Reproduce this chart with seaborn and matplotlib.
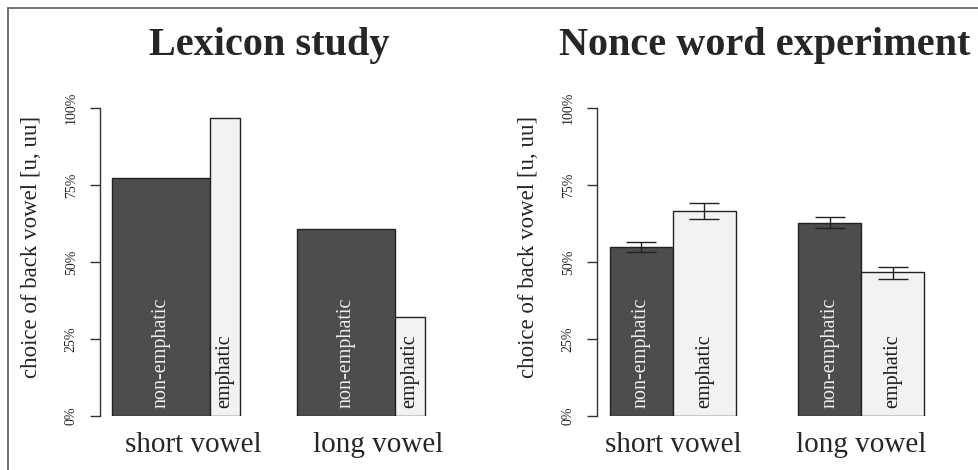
import numpy as np
import pandas as pd
import matplotlib
matplotlib.use("Agg")
import matplotlib.pyplot as plt
from matplotlib.patches import Rectangle
import seaborn as sns

# data
categories = ["short vowel", "long vowel"]
consonants = ["non-emphatic", "emphatic"]

lexicon_short = [0.773, 0.968]
lexicon_long = [0.607, 0.321]
lexicon_share = [0.76, 0.24]   # relative bar widths in the lexicon panel

nonce_short = [0.550, 0.665]
nonce_long = [0.627, 0.466]
nonce_short_lo = [0.533, 0.639]
nonce_short_hi = [0.565, 0.690]
nonce_long_lo = [0.611, 0.444]
nonce_long_hi = [0.645, 0.483]

yticks = [0, 0.25, 0.5, 0.75, 1.0]
ytick_labels = ["0%", "25%", "50%", "75%", "100%"]

sns.set_style("white")
plt.rcParams['font.family'] = ['Liberation Serif', 'DejaVu Serif']

dark = "#4d4d4d"
light = "#f2f2f2"
edge = "#222222"


def make_df(short, long_):
    return pd.DataFrame({
        "vowel": [categories[0]] * 2 + [categories[1]] * 2,
        "type": consonants * 2,
        "value": list(short) + list(long_),
    })


lex = make_df(lexicon_short, lexicon_long)
nonce = make_df(nonce_short, nonce_long)

W, H = 979, 470
fig = plt.figure(figsize=(W / 100, H / 100), dpi=100)
ax1 = fig.add_axes([100 / W, 54 / H, 338 / W, 308 / H])
ax2 = fig.add_axes([597 / W, 54 / H, 340 / W, 308 / H])

for ax, df, width in [(ax1, lex, 0.692), (ax2, nonce, 0.67)]:
    sns.barplot(data=df, x="vowel", y="value", hue="type", order=categories,
                hue_order=consonants, palette=[dark, light], width=width,
                gap=0, edgecolor=edge, linewidth=1, saturation=1,
                legend=False, errorbar=None, ax=ax)

# lexicon panel: bar widths follow the share of words
d = 0.692 * lexicon_share[0]
l = 0.692 * lexicon_share[1]
for i in range(len(categories)):
    left = i - (0.75 * d + 0.25 * l)
    b_dark = ax1.containers[0][i]
    b_light = ax1.containers[1][i]
    b_dark.set_x(left)
    b_dark.set_width(d)
    b_light.set_x(left + d)
    b_light.set_width(l)

# error bars on nonce panel
lo = [nonce_short_lo, nonce_long_lo]
hi = [nonce_short_hi, nonce_long_hi]
for j in range(2):
    for i in range(2):
        bar = ax2.containers[j][i]
        xc = bar.get_x() + bar.get_width() / 2
        v = bar.get_height()
        ax2.errorbar(xc, v, yerr=[[v - lo[i][j]], [hi[i][j] - v]], fmt="none",
                     ecolor=edge, elinewidth=1, capsize=10.8, capthick=1)

# labels inside bars
for ax in (ax1, ax2):
    for j, cont in enumerate(ax.containers[:2]):
        for bar in cont:
            ax.text(bar.get_x() + bar.get_width() / 2, 0.026, consonants[j],
                    rotation=90, ha="center", va="bottom", fontsize=14.5,
                    color="#eeeeee" if j == 0 else "#1a1a1a")

ax1.set_xlim(-0.503, 1.324)
ax2.set_xlim(-0.404, 1.404)

for ax in (ax1, ax2):
    ax.set_ylim(0, 1)
    ax.set_yticks(yticks)
    ax.set_yticklabels(ytick_labels, rotation=90, va="center", fontsize=10)
    ax.set_xticks(range(len(categories)))
    ax.set_xticklabels(categories, fontsize=21)
    ax.tick_params(axis="x", length=0, pad=11.5)
    ax.tick_params(axis="y", length=7, width=1, color="#333333", pad=9,
                   direction="out", left=True)
    for s in ["top", "right", "bottom"]:
        ax.spines[s].set_visible(False)
    ax.spines["left"].set_color("#333333")
    ax.spines["left"].set_linewidth(1)
    ax.set_xlabel("")
    ax.set_ylabel("choice of back vowel [u, uu]", fontsize=16.5)
    ax.patch.set_alpha(0)

ax1.yaxis.set_label_coords(-0.172, 0.55)
ax2.yaxis.set_label_coords(-0.170, 0.55)

fig.text(269 / W, 1 - 55 / H, "Lexicon study", ha="center", va="baseline",
         fontsize=29, fontweight="bold")
fig.text(765 / W, 1 - 55 / H, "Nonce word experiment", ha="center",
         va="baseline", fontsize=29, fontweight="bold")

fig.add_artist(Rectangle((8 / W, -0.1), 1.2, 1.1 - 8 / H, transform=fig.transFigure,
                         fill=False, edgecolor="#666666", lw=1.3))

fig.savefig("out.png", dpi=100)
